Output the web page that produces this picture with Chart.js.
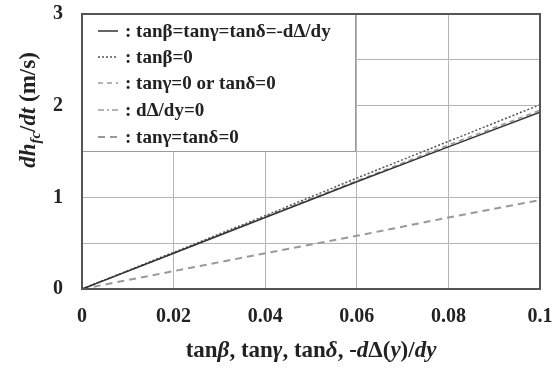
<!DOCTYPE html>
<html>
<head>
<meta charset="utf-8">
<script src="https://cdn.jsdelivr.net/npm/chart.js@4/dist/chart.umd.min.js"></script>
<style>
  html, body { margin: 0; padding: 0; background: #fff; }
  #wrap { width: 553px; height: 369px; }
</style>
</head>
<body>
<div id="wrap"><canvas id="myChart" width="553" height="369"></canvas></div>
<script>
// values
var xValues = [0, 0.02, 0.04, 0.06, 0.08, 0.1];
var allEqual = [0, 0.39, 0.78, 1.17, 1.55, 1.93];      // tanβ=tanγ=tanδ=-dΔ/dy
var betaZero = [0, 0.40, 0.80, 1.21, 1.61, 2.01];      // tanβ=0
var gammaOrDeltaZero = [0, 0.39, 0.79, 1.18, 1.57, 1.95];
var slopeZero = [0, 0, 0, 0, 0, 0];                    // dΔ/dy=0
var gammaDeltaZero = [0, 0.195, 0.39, 0.58, 0.78, 0.97];
var legendLabels = [
    ': tanβ=tanγ=tanδ=-dΔ/dy',
    ': tanβ=0',
    ': tanγ=0 or tanδ=0',
    ': dΔ/dy=0',
    ': tanγ=tanδ=0'
];
var xTicks = [0, 0.02, 0.04, 0.06, 0.08, 0.1];
var yTicks = [0, 1, 2, 3];

var SERIF = '"Liberation Serif", "Times New Roman", serif';

function pts(ys) {
    return xValues.map(function(x, i) { return { x: x, y: ys[i] }; });
}

// draws a list of text pieces centred on 0
function drawPieces(ctx, pieces, size) {
    var w = 0;
    pieces.forEach(function(p) {
        var s = p.sub ? size * 0.65 : size;
        ctx.font = (p.it ? 'italic ' : '') + 'bold ' + s + 'px ' + SERIF;
        w += ctx.measureText(p.t).width;
    });
    var x = -w / 2;
    pieces.forEach(function(p) {
        var s = p.sub ? size * 0.65 : size;
        ctx.font = (p.it ? 'italic ' : '') + 'bold ' + s + 'px ' + SERIF;
        ctx.fillText(p.t, x, p.sub ? size * 0.3 : 0);
        x += ctx.measureText(p.t).width;
    });
}

var extras = {
    id: 'extras',
    afterDraw: function(chart) {
        var ctx = chart.ctx;
        var a = chart.chartArea;
        ctx.save();
        ctx.fillStyle = '#222';
        ctx.textBaseline = 'middle';

        // x axis title
        ctx.save();
        ctx.translate(311, 351);
        drawPieces(ctx, [
            { t: 'tan' }, { t: 'β', it: true }, { t: ', tan' }, { t: 'γ', it: true },
            { t: ', tan' }, { t: 'δ', it: true }, { t: ', -' }, { t: 'd', it: true },
            { t: 'Δ(' }, { t: 'y', it: true }, { t: ')/' }, { t: 'dy', it: true }
        ], 23);
        ctx.restore();

        // y axis title
        ctx.save();
        ctx.translate(29, 110);
        ctx.rotate(-Math.PI / 2);
        drawPieces(ctx, [
            { t: 'dh', it: true }, { t: 'fc', it: true, sub: true }, { t: '/' },
            { t: 'dt', it: true }, { t: ' (m/s)' }
        ], 23);
        ctx.restore();

        // legend box
        var lx = a.left, ly = a.top, lw = 273, lh = 137;
        ctx.fillStyle = '#fff';
        ctx.fillRect(lx, ly, lw, lh);
        ctx.strokeStyle = '#999';
        ctx.lineWidth = 1;
        ctx.strokeRect(lx + 0.5, ly + 0.5, lw, lh);
        var rows = [17, 43, 69, 96, 123];
        chart.data.datasets.forEach(function(ds, i) {
            var y = a.top + rows[i];
            ctx.beginPath();
            ctx.setLineDash(ds.borderDash || []);
            ctx.strokeStyle = ds.borderColor;
            ctx.lineWidth = ds.borderWidth;
            ctx.moveTo(a.left + 16, y);
            ctx.lineTo(a.left + 36, y);
            ctx.stroke();
            ctx.setLineDash([]);
            ctx.fillStyle = '#222';
            ctx.textAlign = 'left';
            ctx.font = 'bold 19px ' + SERIF;
            ctx.fillText(legendLabels[i], a.left + 43, y + 1);
        });

        // plot frame
        ctx.strokeStyle = '#555';
        ctx.lineWidth = 2;
        ctx.strokeRect(a.left, a.top, a.right - a.left, a.bottom - a.top);
        ctx.restore();
    }
};

var ctx = document.getElementById('myChart').getContext('2d');
var chart = new Chart(ctx, {
    type: 'line',
    data: {
        datasets: [{
            label: legendLabels[0],
            data: pts(allEqual),
            borderColor: '#333',
            borderWidth: 1.5
        }, {
            label: legendLabels[1],
            data: pts(betaZero),
            borderColor: '#555',
            borderDash: [2, 2],
            borderWidth: 1.5
        }, {
            label: legendLabels[2],
            data: pts(gammaOrDeltaZero),
            borderColor: '#999',
            borderDash: [5, 4],
            borderWidth: 1.5
        }, {
            label: legendLabels[3],
            data: pts(slopeZero),
            borderColor: '#999',
            borderDash: [6, 3, 2, 3],
            borderWidth: 1.5
        }, {
            label: legendLabels[4],
            data: pts(gammaDeltaZero),
            borderColor: '#999',
            borderDash: [7, 5],
            borderWidth: 2
        }]
    },
    options: {
        responsive: false,
        animation: false,
        layout: { padding: { left: 0, top: 14, right: 13, bottom: 0 } },
        elements: { point: { radius: 0 }, line: { tension: 0 } },
        plugins: { legend: { display: false }, tooltip: { enabled: false } },
        scales: {
            x: {
                type: 'linear',
                min: 0,
                max: 0.1,
                afterFit: function(s) {
                    s.height = 80;
                    s.paddingLeft = 0;
                    s.paddingRight = 0;
                },
                afterBuildTicks: function(s) {
                    s.ticks = xTicks.map(function(v) { return { value: v }; });
                },
                grid: { color: '#b5b5b5', lineWidth: 1, drawTicks: false },
                border: { display: false },
                ticks: {
                    color: '#222',
                    padding: 16,
                    maxRotation: 0,
                    font: { family: SERIF, size: 20, weight: 'bold' },
                    callback: function(v) { return String(+v.toFixed(2)); }
                }
            },
            y: {
                type: 'linear',
                min: 0,
                max: 3,
                afterFit: function(s) {
                    s.width = 82;
                    s.paddingTop = 0;
                    s.paddingBottom = 0;
                },
                afterBuildTicks: function(s) {
                    s.ticks = [0, 0.5, 1, 1.5, 2, 2.5, 3].map(function(v) { return { value: v }; });
                },
                grid: { color: '#b5b5b5', lineWidth: 1, drawTicks: false },
                border: { display: false },
                ticks: {
                    color: '#222',
                    padding: 19,
                    font: { family: SERIF, size: 20, weight: 'bold' },
                    callback: function(v) { return yTicks.indexOf(v) >= 0 ? String(v) : ''; }
                }
            }
        }
    },
    plugins: [extras]
});
</script>
</body>
</html>
